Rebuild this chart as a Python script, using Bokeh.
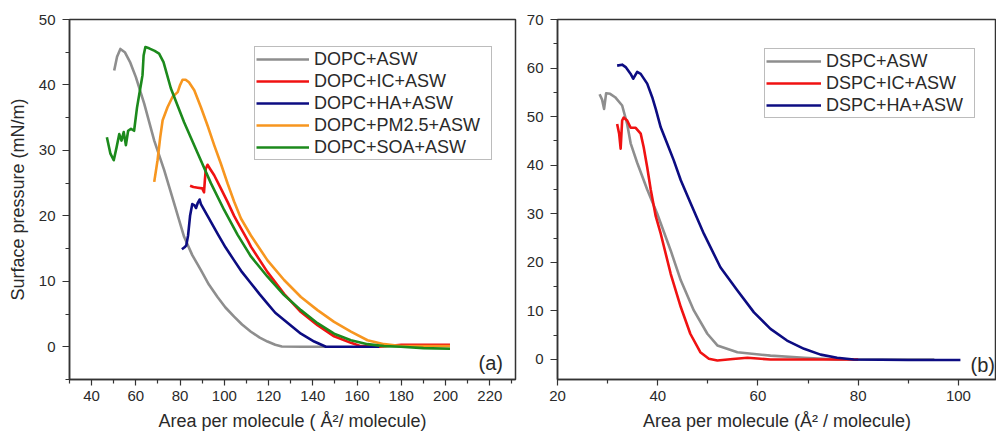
from bokeh.plotting import figure
from bokeh.models import FixedTicker, Legend, LegendItem, Label, Range1d
from bokeh.layouts import row
from bokeh.embed import file_html
from bokeh.resources import INLINE

# ---------------- Panel (a): DOPC ----------------
dopc_asw_x = [50.2, 51.5, 53.0, 55.0, 57.5, 60.0, 63.8, 68.3, 72.8, 77.3, 81.8, 85.5, 89.4, 93.0,
              96.9, 100.5, 104.4, 108.0, 112.0, 116.0, 119.5, 123.0, 126.0, 135.0, 146.0]
dopc_asw_y = [42.2, 44.3, 45.5, 45.0, 43.4, 41.2, 37.1, 31.5, 27.0, 21.9, 16.8, 14.0, 11.7, 9.5,
              7.6, 6.0, 4.6, 3.4, 2.3, 1.4, 0.8, 0.3, 0.05, 0.0, 0.0]

dopc_ic_x = [84.5, 86.0, 88.0, 90.0, 90.8, 91.2, 91.6, 92.4, 93.5, 95.4, 98.4, 101.5, 104.4, 106.0,
             110.5, 112.0, 119.5, 127.0, 134.6, 142.1, 149.6, 157.2, 161.7, 170.0, 180.0, 190.0, 202.0]
dopc_ic_y = [24.6, 24.4, 24.3, 24.2, 23.6, 25.5, 27.2, 27.8, 27.2, 26.2, 24.2, 22.1, 20.0, 19.0,
             16.3, 15.3, 11.4, 8.1, 5.3, 3.3, 1.6, 0.6, 0.1, 0.0, 0.3, 0.3, 0.3]

dopc_ha_x = [80.8, 82.0, 82.8, 83.6, 84.5, 85.5, 86.5, 87.2, 88.0, 88.8, 89.4, 92.4, 96.9, 100.5,
             104.4, 108.0, 112.0, 116.0, 119.5, 123.0, 127.0, 131.0, 134.6, 140.6, 145.9, 155.0, 170.0]
dopc_ha_y = [14.9, 15.2, 15.5, 17.0, 20.0, 21.8, 21.6, 21.2, 22.0, 22.5, 21.8, 20.0, 17.3, 15.2,
             13.2, 11.4, 9.7, 8.0, 6.6, 5.2, 4.1, 3.0, 2.0, 0.8, 0.0, 0.0, 0.0]

dopc_pm_x = [68.3, 69.8, 71.0, 72.1, 74.3, 76.6, 78.9, 80.0, 81.1, 82.5, 84.0, 86.4, 89.4, 92.4,
             95.4, 98.4, 101.5, 104.4, 107.5, 112.0, 119.5, 127.0, 134.6, 142.1, 149.6, 157.2,
             164.7, 172.2, 179.8, 190.0, 202.0]
dopc_pm_y = [25.2, 28.5, 32.0, 34.6, 36.6, 38.2, 38.9, 40.0, 40.8, 40.8, 40.4, 39.2, 36.6, 33.8,
             30.8, 28.0, 24.9, 22.2, 19.6, 17.0, 13.2, 10.2, 7.6, 5.6, 3.8, 2.3,
             1.0, 0.4, 0.1, 0.1, 0.1]

dopc_soa_x = [46.9, 48.5, 50.0, 51.3, 52.5, 53.5, 54.5, 55.5, 56.5, 57.8, 59.2, 60.5, 61.5, 62.5,
              63.0, 63.5, 64.3, 66.0, 68.5, 70.5, 72.5, 75.8, 81.8, 87.9, 93.9, 99.9, 106.0,
              112.0, 119.5, 127.0, 134.6, 142.1, 149.6, 157.2, 164.7, 172.2, 179.8, 190.0, 202.0]
dopc_soa_y = [32.0, 29.5, 28.5, 30.5, 32.5, 31.5, 32.8, 30.8, 33.0, 33.3, 33.0, 36.5, 38.5, 40.5,
              41.5, 44.5, 45.8, 45.6, 45.2, 44.8, 43.5, 39.5, 34.3, 29.6, 25.0, 20.9, 17.1,
              13.8, 10.7, 7.9, 5.6, 3.6, 2.0, 1.0, 0.4, 0.1, 0.0, -0.2, -0.3]

# ---------------- Panel (b): DSPC ----------------
dspc_asw_x = [28.4, 28.9, 29.3, 29.7, 30.5, 31.5, 32.9, 33.9, 34.6, 35.9, 37.9, 39.9, 42.6, 44.6,
              47.2, 49.9, 51.9, 55.9, 62.5, 69.2, 75.8, 85.0, 95.2]
dspc_asw_y = [54.6, 53.5, 51.6, 54.8, 54.7, 54.0, 52.3, 48.5, 44.5, 40.5, 35.0, 30.0, 22.4, 16.3,
              10.1, 5.3, 2.9, 1.5, 0.8, 0.35, 0.0, 0.0, 0.0]

dspc_ic_x = [31.9, 32.3, 32.6, 32.9, 33.2, 33.9, 34.6, 35.6, 36.6, 37.2, 37.9, 38.6, 39.6, 40.6,
             42.6, 44.6, 46.5, 48.5, 50.2, 51.9, 55.0, 57.9, 62.5, 70.0, 80.0]
dspc_ic_y = [48.5, 46.5, 43.4, 49.2, 49.8, 49.2, 47.7, 47.7, 46.5, 43.7, 39.6, 35.0, 29.5, 25.9,
             17.6, 10.8, 5.3, 1.5, 0.15, -0.2, 0.1, 0.35, 0.0, 0.0, 0.0]

dspc_ha_x = [31.9, 32.9, 33.6, 34.6, 35.1, 35.9, 36.6, 37.9, 38.9, 39.6, 40.6, 41.9, 43.2, 44.6,
             46.5, 49.2, 52.5, 55.9, 59.2, 62.5, 65.8, 69.2, 72.5, 75.8, 79.1, 90.0, 100.4]
dspc_ha_y = [60.5, 60.7, 60.2, 58.8, 57.8, 59.2, 58.8, 56.8, 54.0, 51.6, 47.8, 44.4, 41.0, 36.9,
             32.3, 25.9, 19.0, 14.2, 9.7, 6.3, 3.9, 2.2, 1.0, 0.35, 0.0, -0.1, -0.1]

labels_a = ["DOPC+ASW", "DOPC+IC+ASW", "DOPC+HA+ASW", "DOPC+PM2.5+ASW", "DOPC+SOA+ASW"]
labels_b = ["DSPC+ASW", "DSPC+IC+ASW", "DSPC+HA+ASW"]

xticks_a = [40, 60, 80, 100, 120, 140, 160, 180, 200, 220]
xminor_a = [30, 50, 70, 90, 110, 130, 150, 170, 190, 210, 230]
yticks_a = [0, 10, 20, 30, 40, 50]
yminor_a = [-5, 5, 15, 25, 35, 45]

xticks_b = [20, 40, 60, 80, 100]
xminor_b = [30, 50, 70, 90]
yticks_b = [0, 10, 20, 30, 40, 50, 60, 70]
yminor_b = [5, 15, 25, 35, 45, 55, 65]

GRAY, RED, BLUE, ORANGE, GREEN = "#8e8e8e", "#f01212", "#0c0c82", "#f7961f", "#1c8a1c"
FONT = "Liberation Sans"
TXT = "#2a2a2a"


def style(p, xt, xm, yt, ym):
    p.xaxis.ticker = FixedTicker(ticks=xt, minor_ticks=xm)
    p.yaxis.ticker = FixedTicker(ticks=yt, minor_ticks=ym)
    p.xgrid.visible = False
    p.ygrid.visible = False
    for ax in (p.xaxis[0], p.yaxis[0]):
        ax.axis_line_color = "#333333"
        ax.axis_line_width = 1.5
        ax.major_tick_line_color = "#333333"
        ax.minor_tick_line_color = "#333333"
        ax.major_tick_line_width = 1.2
        ax.minor_tick_line_width = 1.2
        ax.major_tick_out = 7
        ax.major_tick_in = 0
        ax.minor_tick_out = 4
        ax.minor_tick_in = 0
        ax.major_label_text_font = FONT
        ax.major_label_text_font_size = "15px"
        ax.major_label_text_color = TXT
        ax.axis_label_text_font = FONT
        ax.axis_label_text_font_size = "18px"
        ax.axis_label_text_font_style = "normal"
        ax.axis_label_text_color = TXT
    p.xaxis.major_tick_out = 6
    p.xaxis.major_label_standoff = 5
    p.xaxis.axis_label_standoff = 7
    p.yaxis.major_label_standoff = 7
    p.outline_line_color = "#333333"
    p.outline_line_width = 1.5
    p.outline_line_alpha = 1.0
    p.background_fill_color = "white"
    p.border_fill_color = "white"


# ---------- figure (a) ----------
pa = figure(width=520, height=436, output_backend="svg", toolbar_location=None,
            x_range=Range1d(30, 231.6), y_range=Range1d(-5, 50),
            min_border_left=69, min_border_right=5, min_border_top=19, min_border_bottom=57)
style(pa, xticks_a, xminor_a, yticks_a, yminor_a)
pa.xaxis.axis_label = "Area per molecule ( Å²/ molecule)"
pa.yaxis.axis_label = "Surface pressure (mN/m)"
pa.yaxis.axis_label_standoff = 8

ra = []
for xs, ys, c in [(dopc_asw_x, dopc_asw_y, GRAY), (dopc_ic_x, dopc_ic_y, RED),
                  (dopc_ha_x, dopc_ha_y, BLUE), (dopc_pm_x, dopc_pm_y, ORANGE),
                  (dopc_soa_x, dopc_soa_y, GREEN)]:
    ra.append(pa.line(xs, ys, line_color=c, line_width=2.6, line_join="round"))

leg_a = Legend(items=[LegendItem(label=l, renderers=[r]) for l, r in zip(labels_a, ra)],
               location=(185, 219), margin=0, padding=1, spacing=0,
               label_height=22, glyph_height=22, glyph_width=53, label_width=176,
               label_standoff=5, label_text_font=FONT, label_text_font_size="18px",
               label_text_color=TXT, border_line_color="#7a7a7a", border_line_width=1.3,
               background_fill_color="white", background_fill_alpha=1.0)
pa.add_layout(leg_a, "center")
pa.add_layout(Label(x=409, y=17, x_units="screen", y_units="screen", text="(a)",
                    text_font=FONT, text_font_size="20px", text_color=TXT,
                    text_baseline="middle"))

# ---------- figure (b) ----------
pb = figure(width=476, height=436, output_backend="svg", toolbar_location=None,
            x_range=Range1d(20, 107.6), y_range=Range1d(-4.12, 70),
            min_border_left=37, min_border_right=0, min_border_top=19, min_border_bottom=57)
style(pb, xticks_b, xminor_b, yticks_b, yminor_b)
pb.xaxis.axis_label = "Area per molecule (Å² / molecule)"

rb = []
for xs, ys, c in [(dspc_asw_x, dspc_asw_y, GRAY), (dspc_ic_x, dspc_ic_y, RED),
                  (dspc_ha_x, dspc_ha_y, BLUE)]:
    rb.append(pb.line(xs, ys, line_color=c, line_width=2.6, line_join="round"))

leg_b = Legend(items=[LegendItem(label=l, renderers=[r]) for l, r in zip(labels_b, rb)],
               location=(207, 261), margin=0, padding=1, spacing=0,
               label_height=22, glyph_height=22, glyph_width=55, label_width=147,
               label_standoff=5, label_text_font=FONT, label_text_font_size="18px",
               label_text_color=TXT, border_line_color="#7a7a7a", border_line_width=1.3,
               background_fill_color="white", background_fill_alpha=1.0)
pb.add_layout(leg_b, "center")
pb.add_layout(Label(x=413, y=15, x_units="screen", y_units="screen", text="(b)",
                    text_font=FONT, text_font_size="20px", text_color=TXT,
                    text_baseline="middle"))

layout = row(pa, pb, spacing=0)
open("out.html", "w").write(file_html(layout, INLINE))
